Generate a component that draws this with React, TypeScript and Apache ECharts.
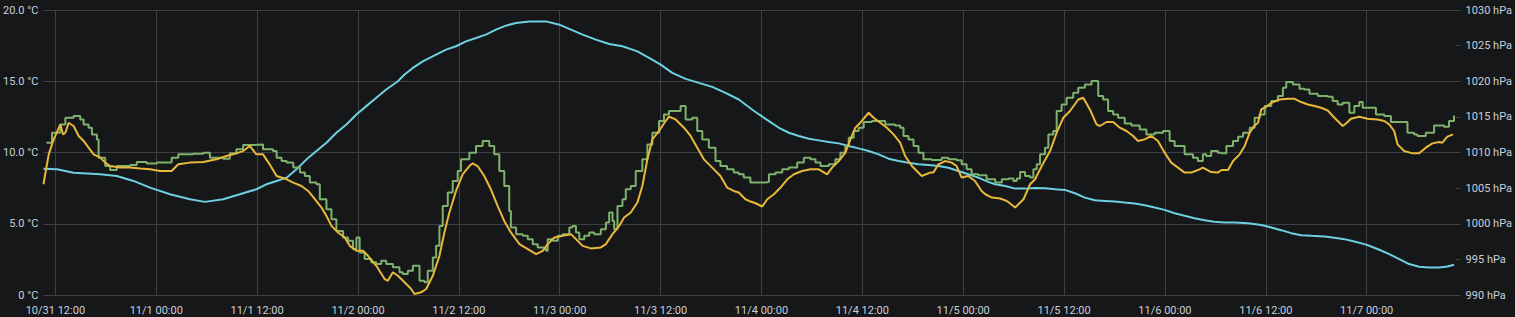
import React, { useEffect, useRef } from "react";
import * as echarts from "echarts";

// hours relative to 10/31 12:00, value
const tempIndoorA: [number, number][] = [
  [-1.42, 7.77], [-0.79, 9.87], [-0.2, 10.92], [0.59, 11.97], [0.91, 11.27], [1.19, 11.39], [1.58, 12.09], [2.17, 11.86], [2.77, 11.16], [3.36, 10.81], [3.95, 10.34], [4.55, 9.87], [5.34, 9.64], [5.93, 9.29], [6.52, 9.05], [7.71, 8.94], [8.89, 8.94], [10.08, 8.87], [11.26, 8.82], [12.45, 8.7], [13.83, 8.7], [14.62, 9.17], [16.01, 9.29], [17.59, 9.33], [19.17, 9.52], [20.36, 9.75], [21.54, 9.94], [22.33, 10.1], [23.12, 10.46], [23.91, 9.87], [24.7, 9.87], [25.49, 9.17],
  [26.32, 8.35], [27.51, 8.12], [28.3, 7.89], [29.28, 7.65], [30.07, 7.3], [30.87, 6.72], [31.66, 6.14], [32.25, 5.55], [32.84, 4.85], [33.63, 4.39], [34.42, 4.04], [35.02, 3.45], [35.81, 3.1], [36.6, 3.1], [37.19, 2.75], [38.18, 2.05], [39.17, 1.12], [39.56, 1.0], [40.15, 1.59], [40.75, 1.35], [41.54, 0.89], [42.33, 0.42], [42.72, 0.07], [43.51, 0.19], [44.11, 0.42], [44.9, 1.35], [45.69, 2.75], [46.28, 4.39], [46.87, 5.79], [47.66, 7.3], [48.45, 8.47], [49.25, 9.05], [49.64, 9.24], [50.23, 9.05], [51.02, 8.35], [51.81, 7.42], [52.61, 6.25], [53.4, 5.2], [54.19, 4.39],
  [55.21, 3.57], [56.2, 3.22], [57.19, 2.87], [57.98, 3.1], [58.57, 3.57], [59.36, 4.04], [60.35, 4.15], [61.34, 4.27], [61.93, 3.92], [62.72, 3.45], [63.71, 3.27], [64.89, 3.34], [65.49, 3.57], [66.28, 4.27], [67.07, 4.85], [67.66, 5.44], [68.45, 5.79], [69.24, 6.49], [69.83, 7.65], [70.43, 9.52], [71.02, 10.92], [71.81, 11.51], [72.6, 12.21], [73.0, 12.51], [73.79, 12.32], [74.78, 11.74], [75.57, 11.16], [76.36, 10.34], [77.15, 9.52], [78.14, 8.94], [79.12, 8.35], [79.91, 7.54], [80.7, 7.3], [81.3, 7.19], [82.09, 6.72],
  [82.52, 6.6], [83.31, 6.44], [84.1, 6.21], [84.69, 6.72], [85.48, 7.07], [86.27, 7.54], [87.07, 8.12], [87.86, 8.47], [88.84, 8.7], [89.83, 8.82], [90.82, 8.82], [91.81, 8.47], [92.4, 8.94], [93.19, 9.4], [93.98, 9.99], [94.58, 10.92], [95.17, 11.74], [95.76, 12.09], [96.75, 12.79], [97.34, 12.44], [98.13, 12.09], [98.92, 11.74], [99.71, 11.27], [100.5, 10.69], [101.1, 9.75], [101.89, 9.05], [103.07, 8.35], [104.06, 8.59], [104.46, 8.59], [105.05, 9.17], [105.84, 9.4], [106.63, 9.29], [107.22, 9.05], [107.82, 8.24], [108.61, 8.35], [109.4, 8.0], [110.19, 7.3],
  [110.62, 7.07], [111.41, 6.84], [112.4, 6.77], [113.19, 6.6], [114.18, 6.14], [115.17, 6.72], [115.96, 7.77], [116.55, 8.12], [117.34, 9.05], [118.33, 10.1], [119.12, 11.39], [119.91, 12.44], [120.7, 12.91], [121.69, 13.72], [122.28, 13.84], [123.07, 13.02], [123.86, 11.97], [124.26, 11.86], [125.05, 12.14], [125.84, 12.14], [126.63, 11.74], [127.42, 11.51], [128.21, 11.16], [128.8, 10.81], [129.59, 10.92], [130.38, 11.16], [131.17, 10.81], [131.96, 9.99], [132.75, 9.29], [133.55, 8.94], [134.34, 8.59], [135.13, 8.59], [135.92, 8.77], [136.51, 8.94], [137.5, 8.63], [138.29, 8.59],
  [138.72, 8.77], [139.51, 8.77], [140.1, 9.4], [140.89, 9.87], [141.49, 10.46], [142.08, 11.39], [142.67, 11.9], [143.07, 12.09], [143.46, 13.02], [144.06, 13.21], [144.65, 13.49], [145.64, 13.72], [146.63, 13.77], [147.42, 13.77], [148.21, 13.54], [149.0, 13.37], [149.79, 13.26], [150.58, 13.14], [151.37, 12.95], [152.16, 12.44], [153.15, 11.86], [153.54, 12.04], [154.13, 12.37], [155.12, 12.51], [156.11, 12.37], [157.3, 12.32], [158.09, 12.21], [158.68, 11.97], [159.27, 11.51], [159.67, 10.57], [160.46, 10.1], [161.45, 9.94], [162.24, 9.94], [163.03, 10.34], [163.82, 10.64], [164.61, 10.74], [165.0, 10.69], [165.6, 11.11], [166.27, 11.27],
];

const tempIndoorB: [number, number][] = [
  [-1.07, 10.69], [-0.4, 11.39], [0.59, 11.97], [1.19, 12.44], [2.17, 12.56], [2.96, 12.32], [3.36, 11.97], [3.95, 11.74], [4.35, 11.27], [4.94, 10.92], [5.14, 9.64], [5.93, 9.05], [6.52, 8.77], [7.31, 9.05], [8.89, 9.12], [9.68, 9.33], [10.87, 9.22], [12.06, 9.29], [13.83, 9.64], [14.62, 9.87], [16.4, 9.92], [17.59, 9.99], [18.38, 9.64], [19.96, 9.57], [20.75, 9.94], [21.54, 10.22], [22.33, 10.53], [23.52, 10.57], [24.7, 10.22], [25.89, 10.1],
  [26.32, 9.64], [26.91, 9.4], [27.51, 9.29], [28.3, 8.94], [29.09, 8.59], [29.68, 8.35], [30.27, 7.89], [31.06, 7.77], [31.46, 6.72], [32.25, 6.02], [32.84, 5.32], [33.43, 4.5], [34.23, 4.04], [34.82, 3.8], [35.41, 3.22], [35.81, 4.04], [36.2, 2.99], [36.79, 2.52], [37.58, 2.29], [38.18, 2.17], [38.77, 2.4], [39.36, 2.17], [40.15, 1.94], [40.94, 1.59], [41.34, 1.47], [41.93, 1.7], [42.53, 2.05], [42.92, 2.05], [43.32, 1.0], [43.91, 0.89], [44.3, 1.7], [44.9, 2.64], [45.29, 3.45], [45.69, 4.85], [46.08, 6.25], [46.68, 7.19], [47.27, 8.0], [47.86, 8.7], [48.26, 9.52], [49.25, 9.99], [50.04, 10.46], [50.83, 10.81], [51.62, 10.46], [52.21, 9.87], [52.81, 8.7], [53.4, 7.65], [53.99, 5.9], [54.19, 4.74],
  [54.82, 4.27], [55.61, 4.15], [56.2, 3.92], [56.79, 3.57], [57.38, 3.34], [58.17, 3.22], [58.37, 3.1], [58.57, 3.92], [59.16, 3.8], [59.76, 4.15], [60.35, 4.27], [61.14, 4.74], [61.53, 4.85], [61.93, 4.39], [62.33, 3.92], [62.92, 4.15], [63.51, 4.39], [64.1, 4.27], [64.89, 4.62], [65.49, 5.09], [65.88, 5.79], [66.28, 5.2], [66.48, 4.62], [66.87, 6.25], [67.46, 6.72], [67.86, 7.42], [68.45, 7.65], [69.04, 8.7], [69.83, 9.52], [70.43, 10.57], [71.02, 11.39], [71.81, 12.21], [72.4, 12.67], [73.0, 12.91], [73.79, 12.91], [74.38, 13.26], [74.98, 12.32], [75.77, 12.44], [76.36, 11.51], [76.96, 10.92], [77.74, 10.34], [78.53, 9.4], [79.12, 9.05], [79.91, 8.82], [80.7, 8.59], [81.3, 8.47], [81.89, 8.24], [82.68, 7.89],
  [83.31, 7.89], [84.5, 7.93], [84.89, 8.47], [85.68, 8.59], [86.47, 8.82], [87.26, 8.94], [88.25, 9.29], [89.04, 9.64], [89.83, 9.52], [90.43, 9.29], [91.02, 9.05], [92.01, 9.17], [92.8, 9.52], [93.39, 9.99], [93.98, 10.46], [94.38, 11.04], [94.97, 11.51], [95.56, 11.74], [96.16, 12.14], [97.14, 12.21], [98.13, 12.21], [98.73, 11.97], [99.91, 11.9], [100.5, 11.74], [100.9, 11.16], [101.49, 10.92], [102.09, 10.46], [102.68, 9.99], [103.27, 9.52], [104.26, 9.47], [105.45, 9.64], [106.24, 9.52], [107.22, 9.45], [107.82, 9.17], [108.41, 8.82], [109.0, 8.47], [109.79, 8.4], [110.78, 8.12],
  [111.81, 7.89], [112.6, 8.12], [113.39, 8.17], [113.98, 8.0], [114.37, 8.17], [114.77, 8.63], [115.36, 8.35], [115.96, 8.24], [116.35, 8.82], [116.75, 9.17], [117.14, 9.87], [117.73, 10.34], [118.13, 11.27], [118.72, 11.51], [119.12, 12.91], [119.71, 13.37], [120.3, 13.84], [121.09, 14.19], [121.69, 14.54], [122.48, 14.77], [123.27, 15.01], [124.06, 13.96], [124.65, 13.72], [125.24, 12.91], [125.84, 12.67], [126.43, 12.44], [127.22, 12.04], [128.01, 11.9], [129.0, 11.62], [129.79, 11.27], [130.78, 11.39], [131.77, 11.51], [132.56, 10.81], [133.15, 10.46], [134.34, 9.87], [135.33, 9.64], [135.92, 9.4], [136.51, 9.87], [136.9, 9.75], [137.5, 10.1], [138.29, 9.99],
  [138.72, 9.94], [139.31, 10.46], [140.1, 10.81], [140.7, 11.11], [141.29, 11.39], [142.08, 11.74], [142.67, 12.44], [143.27, 12.67], [143.86, 13.26], [144.65, 13.61], [145.44, 13.96], [146.03, 14.54], [146.43, 14.94], [147.22, 14.77], [148.01, 14.47], [148.6, 14.42], [149.19, 14.12], [150.18, 13.96], [151.37, 13.91], [151.96, 13.61], [152.55, 13.37], [153.15, 13.49], [153.94, 12.79], [154.53, 13.26], [155.12, 13.54], [155.52, 13.14], [156.11, 13.14], [157.1, 12.67], [158.09, 12.56], [158.88, 12.14], [160.06, 12.14], [160.85, 11.39], [161.65, 11.27], [162.04, 11.16], [163.03, 11.39], [164.02, 11.9], [165.2, 11.81], [165.79, 12.21], [166.39, 12.6],
];

const pressure: [number, number][] = [
  [-1.42, 1007.73], [0.2, 1007.64], [2.17, 1007.17], [5.34, 1006.94], [7.31, 1006.71], [9.29, 1006.01], [11.26, 1005.07], [13.64, 1004.14], [16.01, 1003.44], [17.79, 1003.07], [19.96, 1003.44], [21.94, 1004.14], [23.91, 1004.84], [25.1, 1005.54], [26.32, 1006.01], [27.51, 1006.47], [28.69, 1007.64], [29.88, 1009.04], [31.06, 1010.2], [32.25, 1011.37], [33.43, 1012.77], [34.62, 1013.94], [35.81, 1015.34], [36.99, 1016.51], [38.18, 1017.67], [39.36, 1018.84], [40.75, 1020.0], [41.54, 1020.94], [42.53, 1021.87], [43.71, 1022.8], [45.29, 1023.74], [46.48, 1024.44], [47.66, 1024.91], [48.85, 1025.6], [50.04, 1026.07], [51.22, 1026.54], [52.41, 1027.24], [53.59, 1027.8], [54.78, 1028.17], [56.4, 1028.4], [58.37, 1028.4], [59.95, 1027.94], [61.34, 1027.24], [62.72, 1026.54], [64.3, 1025.84], [65.88, 1025.23], [67.46, 1024.91], [69.24, 1024.2], [70.63, 1023.27], [72.01, 1022.34], [73.39, 1021.17], [74.98, 1020.33], [76.55, 1019.77], [78.14, 1019.21], [79.72, 1018.37], [81.3, 1017.44], [82.88, 1016.04],
  [83.71, 1015.34], [84.89, 1014.41], [86.08, 1013.47], [87.26, 1012.77], [88.45, 1012.31], [89.63, 1011.93], [90.82, 1011.7], [92.01, 1011.47], [93.19, 1011.28], [94.38, 1010.91], [95.56, 1010.58], [96.75, 1010.21], [97.94, 1009.74], [99.12, 1009.13], [100.31, 1008.81], [101.49, 1008.57], [102.68, 1008.34], [103.86, 1008.25], [105.05, 1008.11], [106.24, 1007.87], [107.42, 1007.41], [108.61, 1006.94], [109.79, 1006.47], [110.98, 1005.87], [111.81, 1005.54], [112.99, 1005.31], [114.18, 1004.93], [115.36, 1004.93], [116.55, 1005.03], [117.73, 1004.98], [118.92, 1004.84], [120.11, 1004.75], [121.29, 1004.28], [122.48, 1003.67], [123.66, 1003.3], [124.85, 1003.21], [126.04, 1003.11], [127.22, 1002.97], [128.41, 1002.83], [129.59, 1002.6], [130.78, 1002.27], [131.96, 1001.95], [133.15, 1001.48], [134.34, 1001.11], [135.52, 1000.78], [136.71, 1000.5], [137.89, 1000.27], [139.08, 1000.17], [140.3, 1000.17], [141.88, 1000.08], [143.27, 999.85], [143.86, 999.71], [144.65, 999.47], [145.83, 999.1], [147.02, 998.68], [148.21, 998.4], [149.39, 998.31], [150.97, 998.21], [152.16, 998.03], [153.34, 997.84], [154.53, 997.51], [155.72, 997.14], [156.31, 996.91], [157.49, 996.35], [158.68, 995.74], [159.87, 995.04], [161.05, 994.34], [162.24, 993.97], [163.42, 993.87], [164.61, 993.87], [165.6, 994.01], [166.39, 994.25],
];

// x-axis ticks every 12 hours from 10/31 12:00
const xTickLabels = [
  "10/31 12:00", "11/1 00:00", "11/1 12:00", "11/2 00:00", "11/2 12:00", "11/3 00:00", "11/3 12:00",
  "11/4 00:00", "11/4 12:00", "11/5 00:00", "11/5 12:00", "11/6 00:00", "11/6 12:00", "11/7 00:00",
];
const xTickHours = xTickLabels.map((_, i) => i * 12);

const RANGE_START_H = -1.42;
const RANGE_HOURS = 168;

const TEXT = "#c7d0d9";
const GRID = "#3d3f42";

export default function App() {
  const ref = useRef<HTMLDivElement>(null);
  useEffect(() => {
    if (!ref.current) return;
    const chart = echarts.init(ref.current, undefined, { renderer: "svg" });
    chart.setOption({
      animation: false,
      backgroundColor: "#161719",
      textStyle: { fontFamily: "Roboto", fontSize: 11, color: TEXT },
      grid: { left: 41, right: 57, top: 10, bottom: 22, containLabel: false },
      xAxis: {
        type: "value",
        min: RANGE_START_H,
        max: RANGE_START_H + RANGE_HOURS,
        axisLine: { show: false },
        axisTick: { show: false, customValues: xTickHours },
        splitLine: { show: true, lineStyle: { color: GRID, width: 1 } },
        axisLabel: {
          customValues: xTickHours,
          color: TEXT,
          fontFamily: "Roboto",
          fontSize: 11,
          margin: 10,
          formatter: (v: number) => xTickLabels[Math.round(v / 12)] ?? "",
        },
      },
      yAxis: [
        {
          type: "value",
          min: 0,
          max: 20,
          interval: 5,
          axisLine: { show: false },
          axisTick: { show: false },
          splitLine: { show: true, lineStyle: { color: GRID, width: 1 } },
          axisLabel: {
            color: TEXT,
            fontFamily: "Roboto",
            fontSize: 11,
            margin: 5,
            formatter: (v: number) => (v === 0 ? "0 °C" : v.toFixed(1) + " °C"),
          },
        },
        {
          type: "value",
          min: 990,
          max: 1030,
          interval: 5,
          position: "right",
          axisLine: { show: false },
          axisTick: { show: true, inside: false, length: 5, lineStyle: { color: GRID } },
          splitLine: { show: false },
          axisLabel: {
            color: TEXT,
            fontFamily: "Roboto",
            fontSize: 11,
            margin: 10,
            formatter: (v: number) => v + " hPa",
          },
        },
      ],
      series: [
        {
          type: "line",
          name: "Pressure",
          yAxisIndex: 1,
          data: pressure,
          showSymbol: false,
          lineStyle: { color: "#6ed0e0", width: 2 },
          itemStyle: { color: "#6ed0e0" },
        },
        {
          type: "line",
          name: "Temperature B",
          yAxisIndex: 0,
          data: tempIndoorB,
          showSymbol: false,
          step: "end",
          lineStyle: { color: "#7eb26d", width: 2 },
          itemStyle: { color: "#7eb26d" },
        },
        {
          type: "line",
          name: "Temperature A",
          yAxisIndex: 0,
          data: tempIndoorA,
          showSymbol: false,
          lineStyle: { color: "#eab839", width: 2 },
          itemStyle: { color: "#eab839" },
        },
      ],
    });
    return () => chart.dispose();
  }, []);
  return (
    <div
      ref={ref}
      style={{ position: "fixed", left: 0, top: 0, width: 1515, height: 317, background: "#161719" }}
    />
  );
}
